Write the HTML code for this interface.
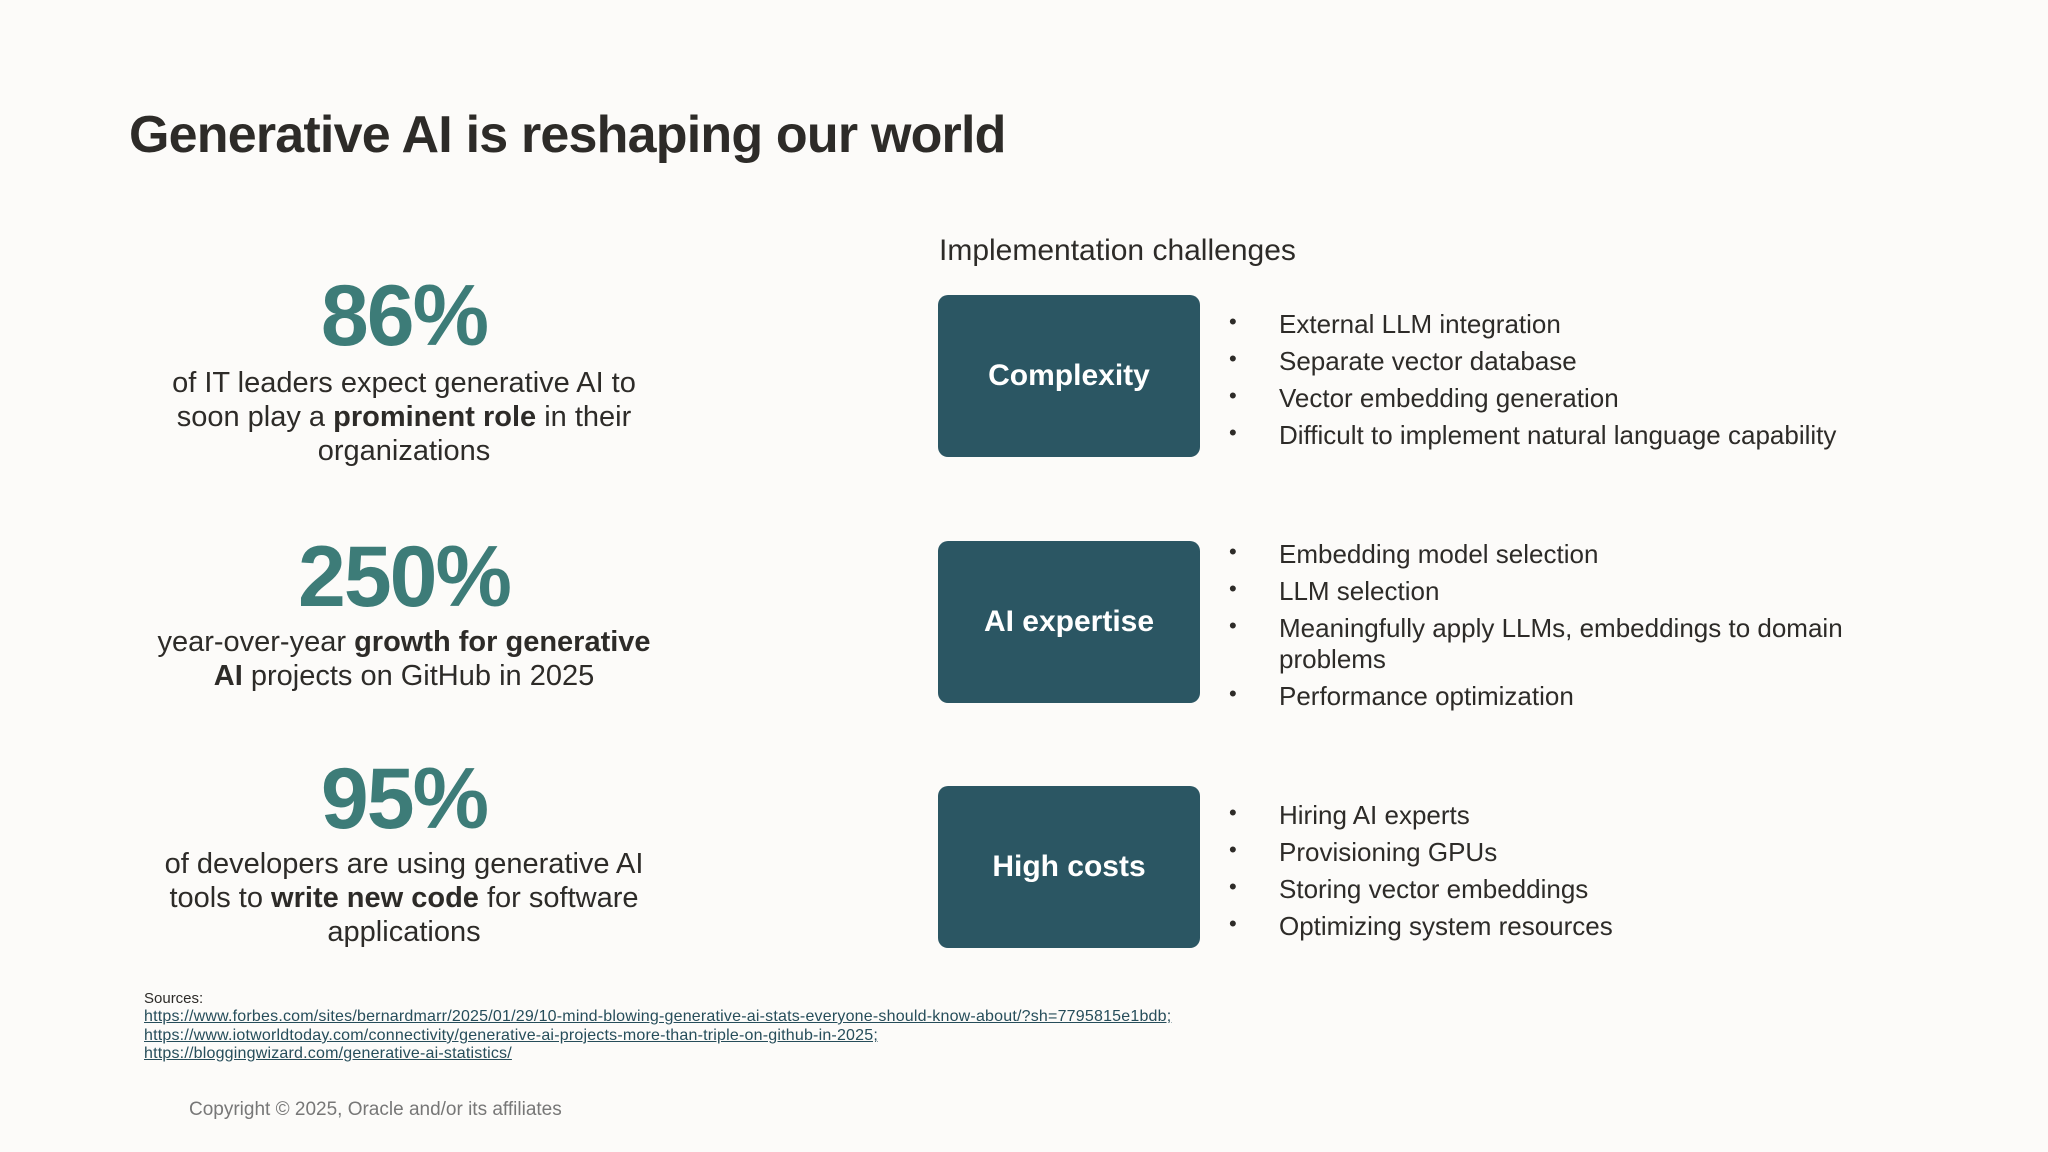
<!DOCTYPE html>
<html><head><meta charset="utf-8"><style>
*{margin:0;padding:0;box-sizing:border-box}
body{width:2048px;height:1152px;background:#fcfbf9;font-family:"Liberation Sans",sans-serif;color:#2a2a2a;position:relative;overflow:hidden}
.abs{position:absolute}
.title{left:129px;top:105px;font-size:52px;font-weight:bold;color:#2d2b28;letter-spacing:-0.8px}
.stat{left:104px;width:600px;text-align:center}
.num{font-size:86px;font-weight:bold;color:#3d7c78;line-height:90px;letter-spacing:-2px}
.desc{font-size:29px;line-height:34px;color:#2d2b28}
.desc b{font-weight:bold}
.sub{left:939px;top:234px;font-size:30px;color:#2d2b28}
.box{left:938px;width:262px;height:162px;background:#2b5663;border-radius:10px;color:#fff;font-weight:bold;font-size:30px;display:flex;align-items:center;justify-content:center}
.item{left:1279px;font-size:26px;color:#2d2b28;line-height:31px}
.dot{left:1229px;font-size:22px;color:#2d2b28}
.src{left:144px;font-size:15px;color:#2d2b28}
.link{left:144px;font-size:16px;color:#264d5a;text-decoration:underline;letter-spacing:0.2px;white-space:nowrap}
.copy{left:189px;top:1099px;font-size:19px;color:#777}
</style></head><body>
<div class="abs title">Generative AI is reshaping our world</div>

<div class="abs stat" style="top:271px">
<div class="num">86%</div>
<div class="desc" style="margin-top:5px">of IT leaders expect generative AI to<br>soon play a <b>prominent role</b> in their<br>organizations</div></div>

<div class="abs stat" style="top:532px">
<div class="num">250%</div>
<div class="desc" style="margin-top:3px">year-over-year <b>growth for generative<br>AI</b> projects on GitHub in 2025</div></div>

<div class="abs stat" style="top:754px">
<div class="num">95%</div>
<div class="desc" style="margin-top:3px">of developers are using generative AI<br>tools to <b>write new code</b> for software<br>applications</div></div>

<div class="abs sub">Implementation challenges</div>

<div class="abs box" style="top:295px">Complexity</div>
<div class="abs box" style="top:541px">AI expertise</div>
<div class="abs box" style="top:786px">High costs</div>

<div>
<div class="abs dot" style="top:309px">•</div><div class="abs item" style="top:309px">External LLM integration</div>
<div class="abs dot" style="top:346px">•</div><div class="abs item" style="top:346px">Separate vector database</div>
<div class="abs dot" style="top:383px">•</div><div class="abs item" style="top:383px">Vector embedding generation</div>
<div class="abs dot" style="top:420px">•</div><div class="abs item" style="top:420px">Difficult to implement natural language capability</div>
</div>
<div>
<div class="abs dot" style="top:539px">•</div><div class="abs item" style="top:539px">Embedding model selection</div>
<div class="abs dot" style="top:576px">•</div><div class="abs item" style="top:576px">LLM selection</div>
<div class="abs dot" style="top:613px">•</div><div class="abs item" style="top:613px">Meaningfully apply LLMs, embeddings to domain<br>problems</div>
<div class="abs dot" style="top:681px">•</div><div class="abs item" style="top:681px">Performance optimization</div>
</div>
<div>
<div class="abs dot" style="top:800px">•</div><div class="abs item" style="top:800px">Hiring AI experts</div>
<div class="abs dot" style="top:837px">•</div><div class="abs item" style="top:837px">Provisioning GPUs</div>
<div class="abs dot" style="top:874px">•</div><div class="abs item" style="top:874px">Storing vector embeddings</div>
<div class="abs dot" style="top:911px">•</div><div class="abs item" style="top:911px">Optimizing system resources</div>
</div>

<div class="abs src" style="top:990px">Sources:</div>
<div class="abs link" style="top:1008px">https://www.forbes.com/sites/bernardmarr/2025/01/29/10-mind-blowing-generative-ai-stats-everyone-should-know-about/?sh=7795815e1bdb;</div>
<div class="abs link" style="top:1027px">https://www.iotworldtoday.com/connectivity/generative-ai-projects-more-than-triple-on-github-in-2025;</div>
<div class="abs link" style="top:1045px">https://bloggingwizard.com/generative-ai-statistics/</div>

<div class="abs copy">Copyright © 2025, Oracle and/or its affiliates</div>
</body></html>
